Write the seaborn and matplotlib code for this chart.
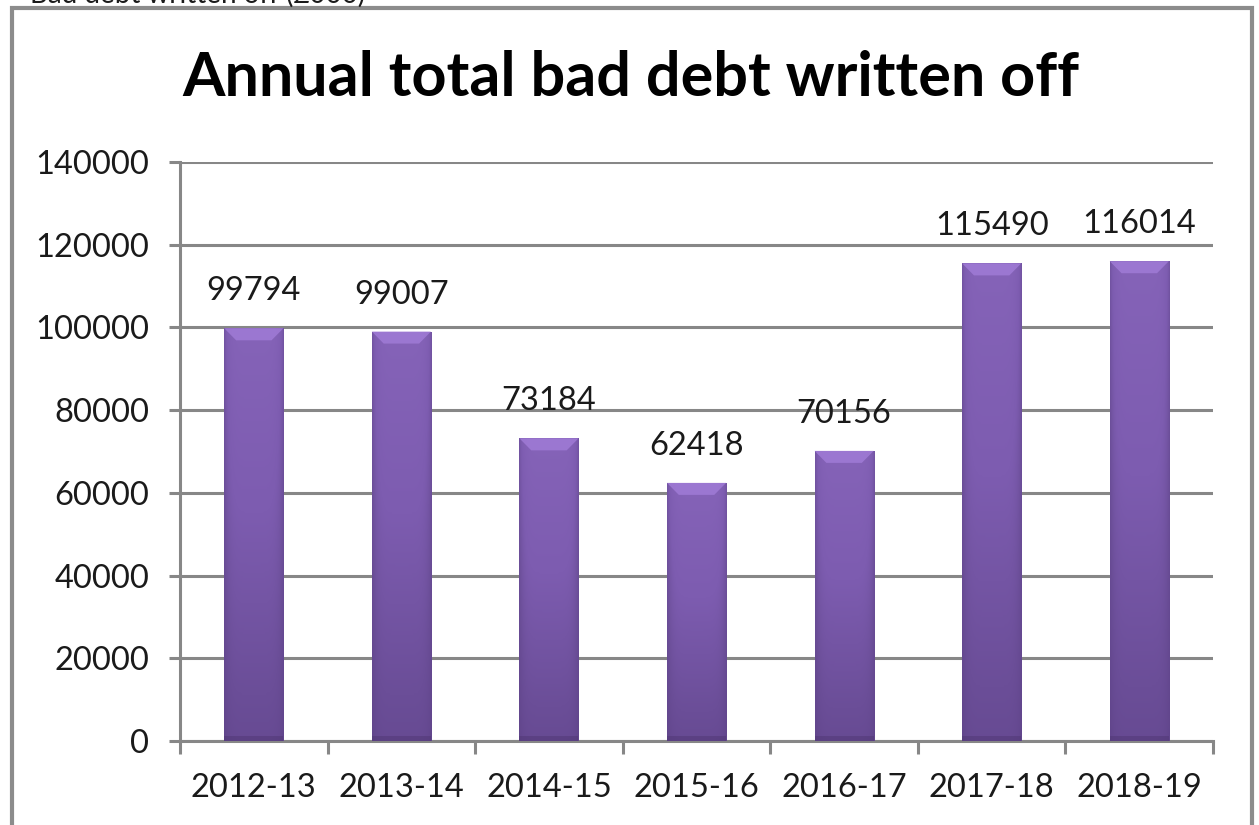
import numpy as np
import matplotlib
matplotlib.use("Agg")
import matplotlib.pyplot as plt
import matplotlib.patches as mpatches
from matplotlib.colors import LinearSegmentedColormap
import seaborn as sns
import pandas as pd

# Annual write-off figures
years = ["2012-13", "2013-14", "2014-15", "2015-16", "2016-17", "2017-18", "2018-19"]
written_off = [99794, 99007, 73184, 62418, 70156, 115490, 116014]
y_ticks = [0, 20000, 40000, 60000, 80000, 100000, 120000, 140000]

title = "Annual total bad debt written off"
caption = "Bad debt written off (£000)"

sns.set_theme(style="white")
plt.rcParams["font.family"] = ["Lato", "DejaVu Sans"]

GRID = "#878787"
TEXT = "#1a1a1a"
FS = 23.5

fig = plt.figure(figsize=(12.59, 8.25), dpi=100)
ax = fig.add_axes([0.143, 0.1018, 0.8205, 0.7018])

df = pd.DataFrame({"year": years, "value": written_off})
sns.barplot(data=df, x="year", y="value", color="#7b58ad", width=0.4,
            ax=ax, zorder=3, linewidth=0, saturation=1)

ax.set_ylim(0, 140000)
ax.set_xlim(-0.5, len(years) - 0.5)
ax.set_yticks(y_ticks)
ax.set_yticklabels([str(t) for t in y_ticks])
ax.yaxis.grid(True, color=GRID, linewidth=2.2, zorder=0)
ax.set_axisbelow(True)
ax.set_xlabel("")
ax.set_ylabel("")

for side in ("top", "right"):
    ax.spines[side].set_visible(False)
for side in ("left", "bottom"):
    ax.spines[side].set_color(GRID)
    ax.spines[side].set_linewidth(2.2)

ax.tick_params(axis="y", length=8, width=2.2, color=GRID, labelsize=FS,
               labelcolor=TEXT, pad=14, direction="out", left=True)
ax.tick_params(axis="x", which="major", length=0, labelsize=FS,
               labelcolor=TEXT, pad=23)
ax.set_xticks(np.arange(-0.5, len(years), 1.0), minor=True)
ax.tick_params(axis="x", which="minor", length=9, width=2.2, color=GRID,
               direction="out", bottom=True)

# Shaded fill for each bar: darker sides, lighter top bevel
shade = LinearSegmentedColormap.from_list(
    "bar_shade", ["#5c4185", "#6b4e98", "#7d5cb0", "#8563b8"])
xs = np.linspace(-1, 1, 200)
ys = np.linspace(0, 1, 200)
X, Y = np.meshgrid(xs, ys)
side = 1 - 0.55 * np.abs(X) ** 6
img = np.clip(0.25 + 0.75 * Y, 0, 1) * side

px_per_unit = 0.7018 * 825 / 140000
for bar in list(ax.patches):
    x0, w = bar.get_x(), bar.get_width()
    h = bar.get_height()
    im = ax.imshow(img, cmap=shade, vmin=0, vmax=1, origin="lower",
                   extent=[x0, x0 + w, 0, h], aspect="auto", zorder=4,
                   interpolation="bilinear")
    im.set_clip_path(bar)
    # bevelled cap along the top of the bar
    cap = 12 / px_per_unit
    inset = w * 0.2
    top = mpatches.Polygon([[x0, h], [x0 + w, h], [x0 + w - inset, h - cap],
                            [x0 + inset, h - cap]], closed=True,
                           facecolor="#a07bd6", edgecolor="none", zorder=5,
                           alpha=0.85)
    ax.add_patch(top)
    # soft shadow at the foot of the bar
    ax.add_patch(mpatches.Rectangle((x0, 0), w, 1200, facecolor="#4d3570",
                                    edgecolor="none", alpha=0.45, zorder=5))
    ax.text(bar.get_x() + w / 2, h + 37 / px_per_unit, f"{int(round(h))}",
            ha="center", va="center", fontsize=FS, color=TEXT, zorder=6)

ax.set_xticks(range(len(years)))
ax.set_xticklabels(years)

fig.text(0.501, 0.905, title, ha="center", va="center", fontsize=44,
         fontweight="bold", color="#000000")

# outer chart frame
frame = mpatches.Rectangle((12 / 1259, -0.02), (1252 - 12) / 1259,
                           1 - 8 / 825 + 0.02, transform=fig.transFigure,
                           fill=False, edgecolor="#8c8c8c", linewidth=3)
fig.add_artist(frame)

# heading line above the chart, mostly out of view
fig.text(30 / 1259, 1.0 - 3 / 825, caption, ha="left", va="baseline",
         fontsize=20, color=TEXT)

fig.savefig("out.png", dpi=100, facecolor="white")
